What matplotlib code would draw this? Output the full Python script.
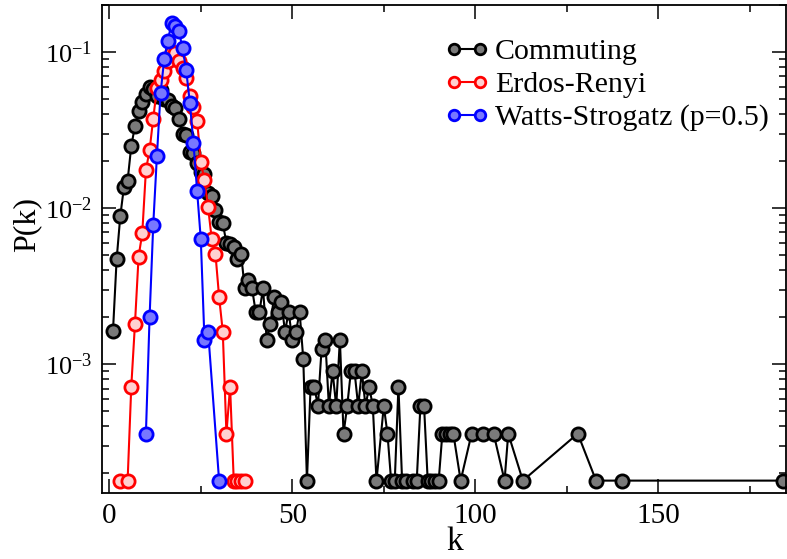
import matplotlib
matplotlib.use("Agg")
import matplotlib.pyplot as plt
from matplotlib.ticker import MultipleLocator, LogLocator

plt.rcParams['font.family'] = ['Liberation Serif', 'DejaVu Serif']

# degree distributions P(k)
commuting_k = [1, 2, 3, 4, 5, 6, 7, 8, 9, 10, 11, 12, 13, 14, 15, 16, 17, 18, 19, 20,
               21, 22, 23, 24, 25, 26, 27, 28, 29, 30, 31, 32, 33, 34, 35, 36, 37, 38, 39, 40,
               41, 42, 43, 44, 45, 46, 47, 48, 49, 50, 51, 52, 53, 54, 55, 56, 57, 58, 59, 60,
               61, 62, 63, 64, 65, 66, 67, 68, 69, 70, 71, 72, 73, 75, 76, 77, 78, 79, 80, 81,
               83, 84, 85, 86, 87, 88, 89, 90, 91, 92, 93, 94, 96, 99, 102, 105, 108, 109, 113, 128,
               133, 140, 184]
commuting_p = [1.63e-3, 4.7e-3, 8.9e-3, 1.37e-2, 1.5e-2, 2.5e-2, 3.35e-2, 4.2e-2, 4.8e-2, 5.4e-2,
               6.0e-2, 5.8e-2, 5.2e-2, 5.7e-2, 5.0e-2, 4.9e-2, 4.5e-2, 4.35e-2, 3.7e-2, 3.0e-2,
               2.95e-2, 2.3e-2, 2.25e-2, 1.95e-2, 1.7e-2, 1.65e-2, 1.25e-2, 1.2e-2, 9.8e-3, 8.2e-3,
               8.0e-3, 6.0e-3, 5.9e-3, 5.65e-3, 4.7e-3, 5.1e-3, 3.06e-3, 3.45e-3, 3.06e-3, 2.16e-3,
               2.16e-3, 3.06e-3, 1.44e-3, 1.8e-3, 2.7e-3, 2.16e-3, 2.52e-3, 1.62e-3, 2.16e-3, 1.44e-3,
               1.62e-3, 2.16e-3, 1.08e-3, 1.8e-4, 7.2e-4, 7.2e-4, 5.4e-4, 1.26e-3, 1.44e-3, 5.4e-4,
               9.0e-4, 5.4e-4, 1.44e-3, 3.6e-4, 5.4e-4, 9.0e-4, 9.0e-4, 5.4e-4, 9.0e-4, 5.4e-4,
               7.2e-4, 5.4e-4, 1.8e-4, 5.4e-4, 3.6e-4, 1.8e-4, 1.8e-4, 7.2e-4, 1.8e-4, 1.8e-4,
               1.8e-4, 1.8e-4, 5.4e-4, 5.4e-4, 1.8e-4, 1.8e-4, 1.8e-4, 1.8e-4, 3.6e-4, 3.6e-4,
               3.6e-4, 3.6e-4, 1.8e-4, 3.6e-4, 3.6e-4, 3.6e-4, 1.8e-4, 3.6e-4, 1.8e-4, 3.6e-4,
               1.8e-4, 1.8e-4, 1.8e-4]

er_k = [3, 5, 6, 7, 8, 9, 10, 11, 12, 13, 14, 15, 16, 17, 18, 19, 20, 21, 22, 23,
        24, 25, 26, 27, 28, 29, 30, 31, 32, 33, 34, 35, 36, 37]
er_p = [1.8e-4, 1.8e-4, 7.2e-4, 1.8e-3, 4.9e-3, 6.9e-3, 1.75e-2, 2.35e-2, 3.75e-2, 5.85e-2,
        6.6e-2, 7.6e-2, 8.7e-2, 0.100, 0.098, 0.088, 0.079, 0.068, 0.052, 0.0445,
        0.0362, 0.0197, 0.0151, 0.0101, 6.3e-3, 5.1e-3, 2.7e-3, 1.62e-3, 3.6e-4, 7.2e-4,
        1.8e-4, 1.8e-4, 1.8e-4, 1.8e-4]

ws_k = [10, 11, 12, 13, 14, 15, 16, 17, 18, 19, 20, 21, 22, 23, 24, 25, 26, 27, 30]
ws_p = [3.6e-4, 2.0e-3, 7.8e-3, 0.0215, 0.0543, 0.090, 0.118, 0.154, 0.147, 0.136,
        0.106, 0.0767, 0.0473, 0.026, 0.0128, 6.3e-3, 1.44e-3, 1.62e-3, 1.8e-4]

labels = ['Commuting', 'Erdos-Renyi', 'Watts-Strogatz (p=0.5)']

fig = plt.figure(figsize=(7.87, 5.59), dpi=100)
ax = fig.add_axes([0.1296, 0.1181, 0.8696, 0.873])

style = dict(lw=1.5, marker='o', ms=9.5, mew=2.0)
ax.plot(commuting_k, commuting_p, color='black', mfc='#7a7a7a', mec='black', label=labels[0], **style)
ax.plot(er_k, er_p, color='#ff0000', mfc='#ffd0d0', mec='#ff0000', label=labels[1], **style)
ax.plot(ws_k, ws_p, color='#0000ff', mfc='#7878ff', mec='#0000ff', label=labels[2], **style)

ax.set_yscale('log')
ax.set_xlim(-2, 185)
ax.set_ylim(1.5e-4, 0.2)
ax.xaxis.set_major_locator(MultipleLocator(50))
ax.xaxis.set_minor_locator(MultipleLocator(25))
ax.yaxis.set_major_locator(LogLocator(base=10))
ax.yaxis.set_minor_locator(LogLocator(base=10, subs=range(2, 10)))

ax.tick_params(which='both', direction='in', top=True, right=True, width=1.1)
ax.tick_params(axis='x', labelsize=21)
ax.tick_params(axis='y', labelsize=19)
ax.tick_params(which='major', length=10, pad=7)
ax.tick_params(which='minor', length=5)
for s in ax.spines.values():
    s.set_linewidth(1.3)

ax.set_xlabel('k', fontsize=24)
ax.set_ylabel('P(k)', fontsize=23)
ax.xaxis.set_label_coords(0.515, -0.068)
ax.yaxis.set_label_coords(-0.088, 0.55)

ax.legend(loc='upper left', bbox_to_anchor=(0.48, 0.962), frameon=False, fontsize=21.5,
          numpoints=2, handlelength=1.45, handletextpad=0.2, labelspacing=0.2,
          borderpad=0, markerscale=0.8)

fig.savefig('out.png', dpi=100)
